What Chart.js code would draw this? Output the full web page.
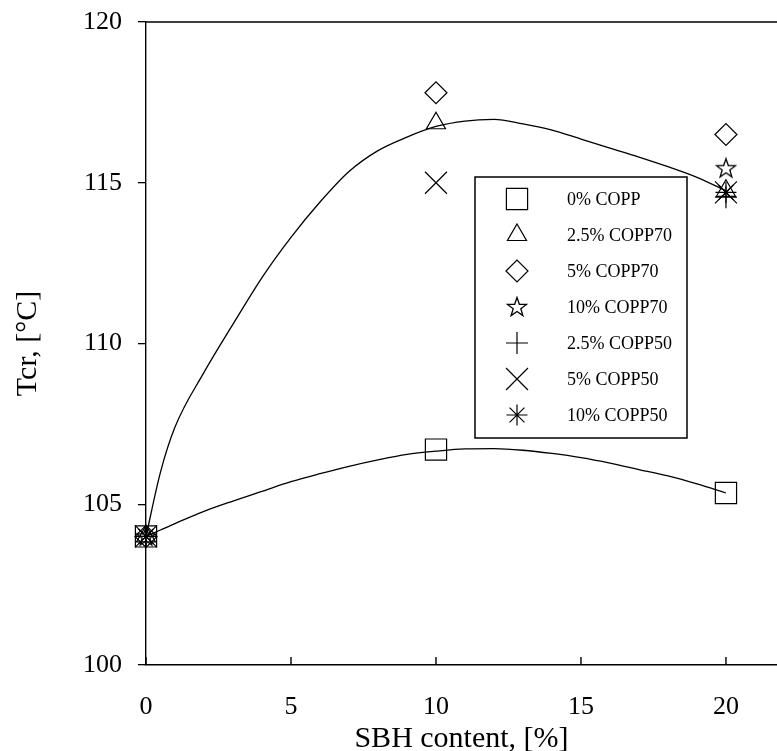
<!DOCTYPE html>
<html>
<head>
<meta charset="utf-8">
<script src="https://cdn.jsdelivr.net/npm/chart.js@4/dist/chart.umd.min.js"></script>
<style>
    html, body { margin: 0; padding: 0; background: #fff; }
    #wrap { width: 777px; height: 751px; }
</style>
</head>
<body>
<div id="wrap"><canvas id="tcrChart" width="777" height="751"></canvas></div>
<script>
// SBH content of the measured blends
const sbhContent = [0, 10, 20];

// Tcr per blend (null = no point shown)
const copp0     = [104.0, 106.7, 105.35];
const copp70_25 = [104.0, 116.85, 114.75];
const copp70_5  = [104.0, 117.8, 116.5];
const copp70_10 = [104.0, null, 115.45];
const copp50_25 = [104.0, null, 114.55];
const copp50_5  = [104.0, 115.0, 114.7];
const copp50_10 = [104.0, null, 114.7];

const seriesLabels = ['0% COPP', '2.5% COPP70', '5% COPP70', '10% COPP70', '2.5% COPP50', '5% COPP50', '10% COPP50'];

// trend curves
const fitX     = [0, 0.5, 1, 2, 3, 4, 5, 6, 7, 8, 9, 10, 11, 12, 13, 14, 15, 16, 17, 18, 19, 20];
const fitUpper = [104.0, 106.0, 107.4, 109.1, 110.6, 112.05, 113.3, 114.4, 115.35, 116.0, 116.42, 116.75, 116.92, 116.97, 116.83, 116.64, 116.36, 116.08, 115.8, 115.5, 115.17, 114.75];
const fitLower = [104.0, 104.2, 104.4, 104.78, 105.1, 105.4, 105.7, 105.95, 106.18, 106.38, 106.55, 106.65, 106.72, 106.73, 106.68, 106.58, 106.45, 106.28, 106.08, 105.88, 105.63, 105.35];

const xTicks = [0, 5, 10, 15, 20];
const yTicks = [100, 105, 110, 115, 120];

const SERIF = "'Liberation Serif', 'Times New Roman', serif";

// 5-point open star, Chart.js has no such point style
function makeStar() {
    const c = document.createElement('canvas');
    c.width = 22; c.height = 22;
    const g = c.getContext('2d');
    g.strokeStyle = '#000';
    g.lineWidth = 1.3;
    g.beginPath();
    for (let i = 0; i < 10; i++) {
        const r = i % 2 === 0 ? 10 : 4;
        const a = -Math.PI / 2 + i * Math.PI / 5;
        const px = 11 + r * Math.cos(a), py = 11.5 + r * Math.sin(a);
        if (i === 0) g.moveTo(px, py); else g.lineTo(px, py);
    }
    g.closePath();
    g.stroke();
    return c;
}
const starImg = makeStar();

function toPoints(ys) {
    return sbhContent.map((x, i) => ({ x, y: ys[i] })).filter(p => p.y !== null);
}

const markerDefs = [
    { data: copp0,     style: 'rect',     radius: 15 },
    { data: copp70_25, style: 'triangle', radius: 11 },
    { data: copp70_5,  style: 'rectRot',  radius: 11 },
    { data: copp70_10, style: starImg,    radius: 10 },
    { data: copp50_25, style: 'cross',    radius: 11 },
    { data: copp50_5,  style: 'crossRot', radius: 15.5 },
    { data: copp50_10, style: 'star',     radius: 10.5 }
];

const datasets = markerDefs.map((m, i) => ({
    label: seriesLabels[i],
    data: toPoints(m.data),
    pointStyle: m.style,
    pointRadius: m.radius,
    pointBorderColor: '#000',
    pointBackgroundColor: 'transparent',
    pointBorderWidth: 1.2,
    showLine: false,
    clip: false
}));

function curve(ys) {
    return {
        label: '',
        data: fitX.map((x, i) => ({ x, y: ys[i] })),
        showLine: true,
        pointRadius: 0,
        borderColor: '#000',
        borderWidth: 1.3,
        cubicInterpolationMode: 'monotone',
        fill: false
    };
}
datasets.push(curve(fitUpper), curve(fitLower));

// inward x ticks, top frame line and the boxed legend
const frameExtras = {
    id: 'frameExtras',
    afterDraw(chart) {
        const { ctx, chartArea, scales: { x } } = chart;
        ctx.save();
        ctx.strokeStyle = '#000';
        ctx.lineWidth = 1.4;
        ctx.beginPath();
        ctx.moveTo(chartArea.left, chartArea.top);
        ctx.lineTo(chartArea.right, chartArea.top);
        xTicks.forEach(v => {
            const px = x.getPixelForValue(v);
            ctx.moveTo(px, chartArea.bottom);
            ctx.lineTo(px, chartArea.bottom - 8);
        });
        ctx.stroke();

        // legend
        const box = { left: 475, top: 177, right: 687, bottom: 438 };
        ctx.fillStyle = '#fff';
        ctx.fillRect(box.left, box.top, box.right - box.left, box.bottom - box.top);
        ctx.lineWidth = 1.5;
        ctx.strokeRect(box.left, box.top, box.right - box.left, box.bottom - box.top);
        ctx.font = '18px ' + SERIF;
        ctx.textBaseline = 'middle';
        ctx.textAlign = 'left';
        markerDefs.forEach((m, i) => {
            const y = 199 + i * 36;
            ctx.strokeStyle = '#000';
            ctx.fillStyle = 'transparent';
            ctx.lineWidth = 1.2;
            Chart.helpers.drawPoint(ctx, {
                pointStyle: m.style, radius: m.radius, rotation: 0, borderWidth: 1.2
            }, 517, y);
            ctx.fillStyle = '#000';
            ctx.fillText(seriesLabels[i], 567, y + 1);
        });
        ctx.restore();
    }
};

new Chart(document.getElementById('tcrChart'), {
    type: 'scatter',
    data: { datasets },
    plugins: [frameExtras],
    options: {
        responsive: false,
        animation: false,
        events: [],
        devicePixelRatio: 1,
        layout: { autoPadding: false, padding: { top: 22, right: 0, bottom: 0, left: 0 } },
        plugins: { legend: { display: false }, tooltip: { enabled: false } },
        scales: {
            x: {
                type: 'linear',
                min: 0,
                max: 21.76,
                afterFit: s => { s.height = 86; s.paddingLeft = 0; s.paddingRight = 0; },
                afterBuildTicks: s => { s.ticks = xTicks.map(v => ({ value: v })); },
                ticks: { font: { family: SERIF, size: 26 }, color: '#000', padding: 27, maxRotation: 0 },
                grid: { drawOnChartArea: false, drawTicks: false },
                border: { display: true, color: '#000', width: 1.4 },
                title: {
                    display: true, text: 'SBH content, [%]', color: '#000',
                    font: { family: SERIF, size: 30, lineHeight: 0.8 }, padding: { top: 0, bottom: 0 }
                }
            },
            y: {
                min: 100,
                max: 120,
                afterFit: s => { s.width = 146; s.paddingTop = 0; s.paddingBottom = 0; },
                afterBuildTicks: s => { s.ticks = yTicks.map(v => ({ value: v })); },
                ticks: { font: { family: SERIF, size: 26 }, color: '#000', padding: 16 },
                grid: { drawOnChartArea: false, drawTicks: true, tickLength: 8, color: '#000', lineWidth: 1.3 },
                border: { display: true, color: '#000', width: 1.4 },
                title: {
                    display: true, text: 'Tcr, [°C]', color: '#000',
                    font: { family: SERIF, size: 30, lineHeight: 1 }, padding: { top: 13, bottom: 0 }
                }
            }
        }
    }
});
</script>
</body>
</html>
